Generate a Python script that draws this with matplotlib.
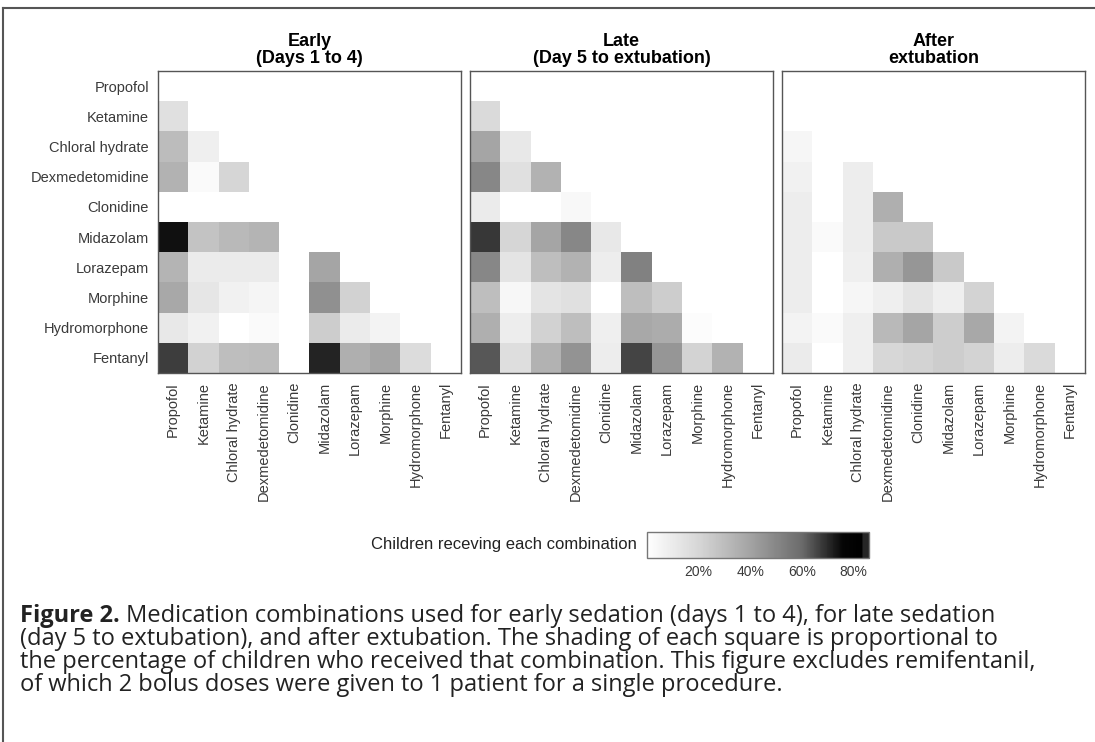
import numpy as np
import matplotlib.pyplot as plt
from matplotlib.colors import LinearSegmentedColormap
from matplotlib.lines import Line2D

plt.rcParams['font.family'] = ['Liberation Sans', 'DejaVu Sans']

drugs = ['Propofol', 'Ketamine', 'Chloral hydrate', 'Dexmedetomidine', 'Clonidine',
         'Midazolam', 'Lorazepam', 'Morphine', 'Hydromorphone', 'Fentanyl']

# % of children receiving each combination (lower triangle, row drug x earlier drugs)
early = [
    [],
    [15],
    [30, 8],
    [34, 2.5, 20],
    [0, 0, 0, 0],
    [74, 27.5, 31.5, 33, 0],
    [33, 10, 10, 10, 0, 39],
    [38, 12, 7, 5, 0, 46.5, 21.5],
    [11, 6.5, 0, 2.5, 0, 23.5, 10, 6],
    [67, 21.5, 29.5, 30, 0, 71, 35, 39, 17],
]
late = [
    [],
    [18],
    [39, 11],
    [50, 15, 34],
    [10, 0, 0, 3.5],
    [68, 20, 39, 50, 11],
    [50, 13, 29.5, 34, 9, 52],
    [29.5, 4, 13, 15, 0, 29.5, 23.5],
    [35, 9, 21.5, 29.5, 7.5, 38, 36.5, 1.5],
    [63, 16, 34, 45.5, 9, 66, 44.5, 21, 34],
]
after = [
    [],
    [0],
    [4.5, 0],
    [6.5, 0, 8.5],
    [8.5, 0, 9, 35],
    [9, 2.5, 9, 25, 25],
    [9, 0, 7.5, 35, 44.5, 25],
    [9, 0, 4.5, 7.5, 13, 7.5, 21],
    [5.5, 2.5, 7.5, 31.5, 39, 23.5, 38, 6],
    [10, 0, 7.5, 19.5, 21, 23.5, 21, 8.5, 18],
]
titles = ['Early\n(Days 1 to 4)', 'Late\n(Day 5 to extubation)', 'After\nextubation']
cbar_ticks = [20, 40, 60, 80]
vmax = 86

caption_bold = 'Figure 2.'
caption_lines = [
    ' Medication combinations used for early sedation (days 1 to 4), for late sedation',
    '(day 5 to extubation), and after extubation. The shading of each square is proportional to',
    'the percentage of children who received that combination. This figure excludes remifentanil,',
    'of which 2 bolus doses were given to 1 patient for a single procedure.',
]

# grey scale as printed in the key (light for most of the range, black near the top)
cmap = LinearSegmentedColormap.from_list('key', [
    (0.0, (1, 1, 1)),
    (20 / vmax, (.84, .84, .84)),
    (40 / vmax, (.64, .64, .64)),
    (60 / vmax, (.42, .42, .42)),
    (76 / vmax, (.02, .02, .02)),
    (0.97, (0, 0, 0)),
    (0.975, (.15, .15, .15)),
    (1.0, (.15, .15, .15)),
])


def to_matrix(rows):
    n = len(drugs)
    m = np.full((n, n), np.nan)
    for i, r in enumerate(rows):
        m[i, :len(r)] = r
    return m


W, H = 1095, 742
fig = plt.figure(figsize=(W / 100, H / 100), dpi=100)

panel_left = [158, 470, 782]
pw, top, bottom = 303, 71, 373
label_col = '#3a3a3a'
frame_col = '#555555'

im = None
for k, (rows, title) in enumerate(zip([early, late, after], titles)):
    ax = fig.add_axes([panel_left[k] / W, 1 - bottom / H, pw / W, (bottom - top) / H])
    im = ax.imshow(to_matrix(rows), cmap=cmap, vmin=0, vmax=vmax,
                   interpolation='nearest', aspect='auto')
    ax.set_xticks(range(len(drugs)))
    ax.set_xticklabels(drugs, rotation=90, fontsize=10.5, color=label_col)
    ax.set_yticks(range(len(drugs)))
    if k == 0:
        ax.set_yticklabels(drugs, fontsize=10.5, color=label_col)
    else:
        ax.set_yticklabels([])
    ax.tick_params(length=0, pad=6.5)
    for s in ax.spines.values():
        s.set_color(frame_col)
        s.set_linewidth(1.0)
    ax.set_title(title, fontsize=13, fontweight='bold', pad=6, linespacing=0.95)

# key
cax = fig.add_axes([647 / W, 1 - 558 / H, 222 / W, 26 / H])
cb = fig.colorbar(im, cax=cax, orientation='horizontal', ticks=cbar_ticks)
cb.ax.set_xticklabels([f'{t}%' for t in cbar_ticks], fontsize=10, color=label_col)
cb.ax.tick_params(length=0, pad=5)
cb.outline.set_edgecolor('#777777')
cb.outline.set_linewidth(1.0)
fig.text(637 / W, 1 - 545 / H, 'Children receving each combination', ha='right', va='center',
         fontsize=12, color='#222222')

# caption, one baseline every 23 px
cap_font = ['Open Sans', 'DejaVu Sans']
cap_size = 17
x0 = 20 / W
baselines = [622, 645, 668, 691]
t = fig.text(x0, 1 - baselines[0] / H, caption_bold, fontsize=cap_size, fontweight='bold',
             family=cap_font, color='#222222', va='baseline')
fig.canvas.draw()
bb = t.get_window_extent()
for i, line in enumerate(caption_lines):
    x = bb.x1 / W if i == 0 else x0
    fig.text(x, 1 - baselines[i] / H, line, fontsize=cap_size, family=cap_font,
             color='#222222', va='baseline')

# page frame (top and left rule)
fig.add_artist(Line2D([3 / W, 1], [1 - 8 / H, 1 - 8 / H], transform=fig.transFigure,
                      color='#555555', lw=1.5))
fig.add_artist(Line2D([3 / W, 3 / W], [0, 1 - 8 / H], transform=fig.transFigure,
                      color='#555555', lw=1.5))

fig.savefig('out.png', dpi=100)
